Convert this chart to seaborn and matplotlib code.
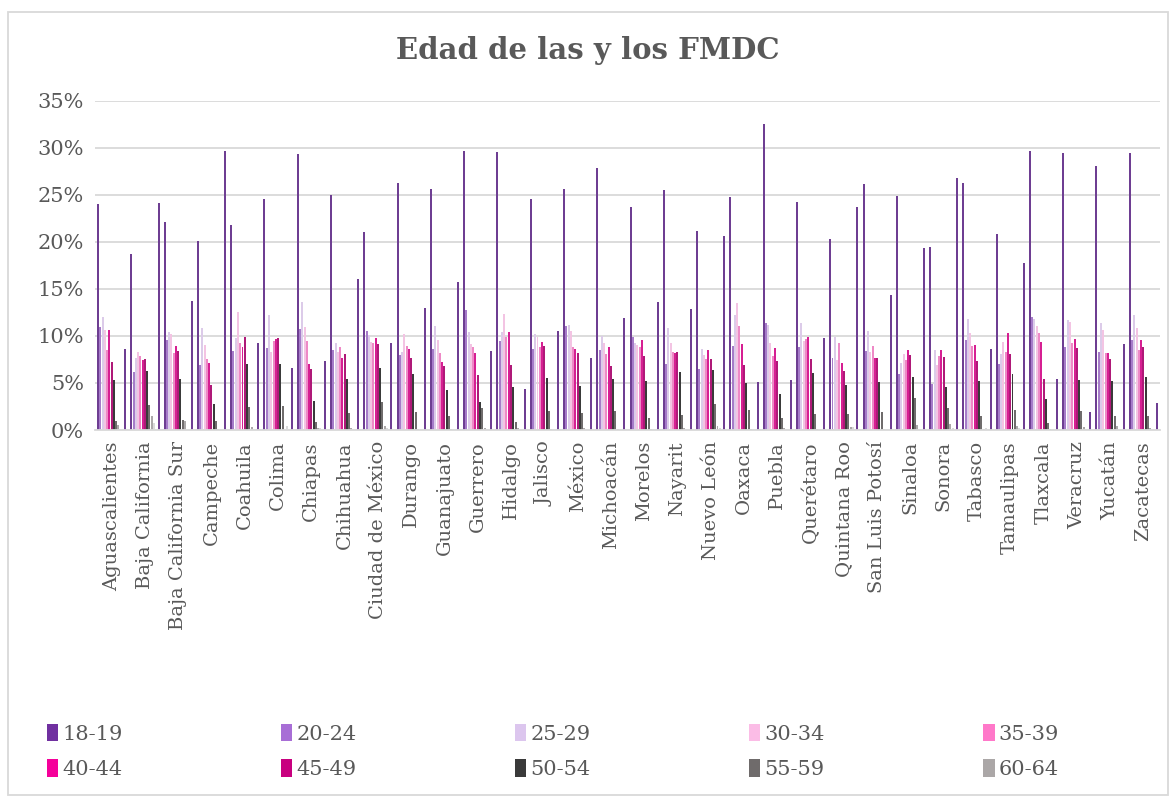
import matplotlib
matplotlib.use("Agg")
import matplotlib.pyplot as plt
from matplotlib.patches import Patch, Rectangle
import seaborn as sns
import pandas as pd

states = ["Aguascalientes", "Baja California", "Baja California Sur", "Campeche",
          "Coahuila", "Colima", "Chiapas", "Chihuahua", "Ciudad de México",
          "Durango", "Guanajuato", "Guerrero", "Hidalgo", "Jalisco", "México",
          "Michoacán", "Morelos", "Nayarit", "Nuevo León", "Oaxaca", "Puebla",
          "Querétaro", "Quintana Roo", "San Luis Potosí", "Sinaloa", "Sonora",
          "Tabasco", "Tamaulipas", "Tlaxcala", "Veracruz", "Yucatán", "Zacatecas"]

# values in %
a18_19 = [24.0, 18.7, 22.1, 20.1, 21.8, 24.6, 29.3, 25.0, 21.0, 26.2, 25.6, 29.7, 29.5, 24.55, 25.6, 27.8,
          23.75, 25.5, 21.2, 24.8, 32.5, 24.25, 20.25, 26.15, 24.9, 19.4, 26.3, 20.8, 29.7, 29.4, 28.1, 29.45]
a20_24 = [10.9, 6.2, 9.6, 6.9, 8.4, 8.7, 10.7, 8.55, 10.5, 7.95, 8.65, 12.8, 9.5, 8.6, 11.1, 8.45,
          9.9, 7.0, 6.5, 8.95, 11.4, 8.85, 7.65, 8.35, 6.0, 4.9, 9.6, 7.0, 12.0, 8.85, 8.3, 9.6]
a25_29 = [12.0, 7.6, 10.4, 10.8, 9.8, 12.2, 13.6, 9.2, 10.1, 8.25, 11.05, 10.4, 10.4, 10.25, 11.2, 10.0,
          9.3, 10.8, 8.6, 12.2, 11.2, 11.4, 9.85, 10.5, 7.1, 8.5, 11.8, 8.1, 11.8, 11.7, 11.4, 12.25]
a30_34 = [10.6, 8.3, 10.2, 9.0, 12.5, 8.3, 10.9, 8.25, 9.4, 10.2, 9.6, 9.15, 12.3, 9.9, 10.5, 9.2,
          9.0, 9.3, 8.0, 13.55, 9.2, 9.45, 7.4, 8.25, 8.1, 6.9, 10.35, 9.4, 11.1, 11.45, 10.65, 10.8]
a35_39 = [8.5, 7.9, 8.2, 7.5, 9.2, 9.5, 9.5, 8.8, 9.3, 8.95, 8.2, 8.8, 9.9, 8.85, 8.8, 8.1,
          8.8, 8.3, 7.5, 11.1, 7.85, 9.7, 9.2, 8.9, 7.45, 7.9, 8.95, 8.25, 10.3, 9.2, 8.2, 8.5]
a40_44 = [10.6, 7.4, 8.9, 7.1, 8.8, 9.7, 7.0, 7.65, 9.8, 8.6, 7.25, 8.15, 10.4, 9.35, 8.6, 8.8,
          9.55, 8.15, 8.55, 9.1, 8.7, 9.9, 7.1, 7.65, 8.55, 8.55, 9.05, 10.3, 9.4, 9.7, 8.2, 9.6]
a45_49 = [7.2, 7.5, 8.4, 4.8, 9.9, 9.8, 6.5, 8.1, 9.15, 7.6, 6.85, 5.8, 6.9, 8.95, 8.2, 6.75,
          7.9, 8.3, 7.5, 6.9, 7.3, 7.55, 6.3, 7.65, 7.95, 7.75, 7.3, 8.1, 5.4, 8.7, 7.5, 8.8]
a50_54 = [5.3, 6.3, 5.4, 2.75, 7.0, 7.0, 3.1, 5.45, 6.55, 5.9, 4.25, 3.0, 4.55, 5.55, 4.7, 5.4,
          5.2, 6.15, 6.4, 4.95, 3.85, 6.05, 4.8, 5.15, 5.6, 4.6, 5.2, 5.95, 3.25, 5.35, 5.2, 5.6]
a55_59 = [1.0, 2.7, 1.1, 1.0, 2.45, 2.5, 0.8, 1.8, 3.0, 1.95, 1.5, 2.35, 0.9, 2.0, 1.85, 2.05,
          1.25, 1.6, 2.75, 2.1, 1.25, 1.75, 1.75, 1.9, 3.35, 2.35, 1.45, 2.1, 0.7, 2.05, 1.5, 1.5]
a60_64 = [0.5, 1.5, 1.0, 0.1, 0.3, 0.0, 0.2, 0.2, 0.45, 0.1, 0.1, 0.25, 0.2, 0.1, 0.2, 0.1,
          0.1, 0.2, 0.45, 0.1, 0.2, 0.1, 0.35, 0.1, 0.55, 0.65, 0.1, 0.45, 0.1, 0.35, 0.45, 0.2]
a65_mas = [0.0, 0.7, 0.0, 0.0, 0.0, 0.4, 0.2, 0.0, 0.2, 0.0, 0.0, 0.15, 0.15, 0.1, 0.0, 0.0,
           0.0, 0.1, 0.2, 0.0, 0.1, 0.0, 0.35, 0.0, 0.0, 0.2, 0.2, 0.2, 0.0, 0.0, 0.0, 0.0]
# second purple bar at the right end of every cluster
b18_19 = [8.6, 24.1, 13.7, 29.7, 9.3, 6.6, 7.3, 16.0, 9.2, 13.0, 15.7, 8.4, 4.35, 10.5, 7.6, 11.9,
          13.65, 12.85, 20.6, 5.05, 5.3, 9.8, 23.75, 14.35, 19.35, 26.8, 8.65, 17.8, 5.45, 1.9, 9.15, 2.9]

groups = ["18-19", "20-24", "25-29", "30-34", "35-39", "40-44", "45-49", "50-54", "55-59", "60-64"]
colors = ["#7030A0", "#A86ED6", "#DCC6EE", "#FBBCE6", "#FF78C9",
          "#F5009A", "#C8007F", "#3A3A3A", "#6F6B6B", "#ABA7A7"]

series = [a18_19, a20_24, a25_29, a30_34, a35_39, a40_44, a45_49, a50_54, a55_59, a60_64,
          a65_mas, [0.0] * len(states), b18_19]
names = groups + ["65+", "hueco", "18-19 b"]
palette = dict(zip(names, colors + ["#D9D9D9", "#FFFFFF", "#7030A0"]))

rows = []
for name, vals in zip(names, series):
    for st, v in zip(states, vals):
        rows.append({"estado": st, "grupo": name, "valor": v})
df = pd.DataFrame(rows)

sns.set_style("white")
plt.rcParams["font.family"] = ["DejaVu Serif"]
grey = "#595959"

fig = plt.figure(figsize=(11.75, 7.98), dpi=100)
ax = fig.add_axes([95 / 1175, 1 - 430 / 798, 1065 / 1175, 329.3 / 798])

sns.barplot(data=df, x="estado", y="valor", hue="grupo", hue_order=names,
            order=states, palette=palette, width=0.885, gap=0.12,
            errorbar=None, linewidth=0, legend=False, ax=ax)

ax.set_ylim(0, 35)
ax.set_xlim(-0.5, len(states) - 0.5)
ax.set_yticks(range(0, 36, 5))
ax.set_yticklabels([f"{v}%" for v in range(0, 36, 5)], fontsize=15, color=grey)
ax.set_xticks(range(len(states)))
ax.set_xticklabels(states, rotation=90, fontsize=14, color=grey)
ax.tick_params(axis="both", length=0, pad=8)
ax.set_xlabel("")
ax.set_ylabel("")
ax.yaxis.grid(True, color="#D9D9D9", linewidth=1.3)
ax.set_axisbelow(True)
for side in ["left", "right", "top"]:
    ax.spines[side].set_visible(False)
ax.spines["bottom"].set_color("#D9D9D9")
ax.spines["bottom"].set_linewidth(1.3)

fig.text(0.5, 0.937, "Edad de las y los FMDC", ha="center", va="center",
         fontsize=21, fontweight="bold", color=grey)

handles = [Patch(facecolor=c, edgecolor="none") for c in colors]
order = [0, 5, 1, 6, 2, 7, 3, 8, 4, 9]
fig.legend([handles[i] for i in order], [groups[i] for i in order], ncol=5,
           loc="lower left", bbox_to_anchor=(28 / 1175, 0 / 798, 1050 / 1175, 90 / 798),
           mode="expand", frameon=False, fontsize=15, labelcolor=grey,
           handlelength=0.55, handleheight=0.9, handletextpad=0.2, labelspacing=0.75)

fig.patches.append(Rectangle((8 / 1175, 3 / 798), 1160 / 1175, 783 / 798,
                             transform=fig.transFigure, fill=False,
                             edgecolor="#D9D9D9", linewidth=1.3))

fig.savefig("out.png", dpi=100)
